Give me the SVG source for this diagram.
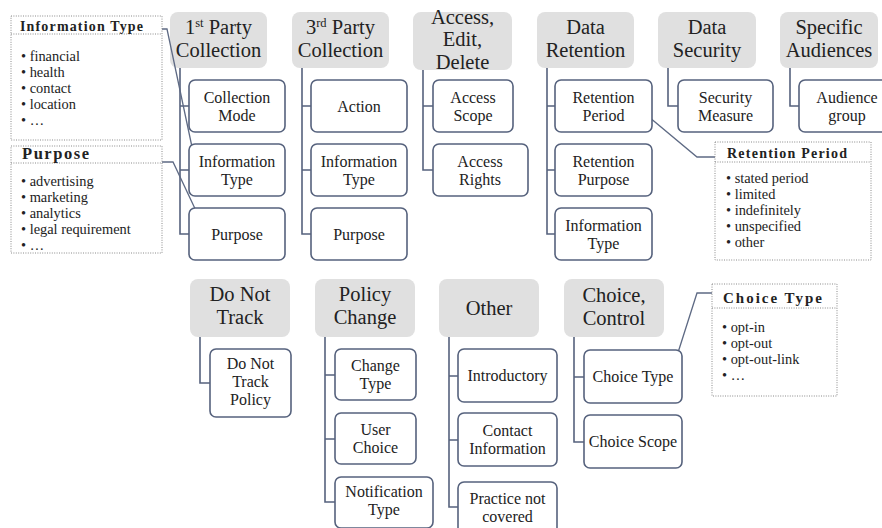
<svg xmlns="http://www.w3.org/2000/svg" width="882" height="528" viewBox="0 0 882 528" font-family="'Liberation Serif', 'DejaVu Serif', 'Times New Roman', serif">
  <style>
    text { font-family: 'Liberation Serif', 'DejaVu Serif', 'Times New Roman', serif; fill: #222; }
    .hdr rect { fill: #e0e0e0; stroke: none; }
    .hdr text { font-size: 20.5px; text-anchor: middle; }
    .node rect { fill: #fff; stroke: #56627d; stroke-width: 1.6; }
    .node text { font-size: 16px; text-anchor: middle; }
    .list rect { fill: #fff; stroke: #8a8a8a; stroke-width: 1; stroke-dasharray: 1 1.4; }
    .list line { stroke: #8a8a8a; stroke-width: 1; stroke-dasharray: 1 1.4; }
    .list .ttl { font-weight: bold; }
    .list .item { font-size: 14.4px; }
    .trunk path { fill: none; stroke: #56627d; stroke-width: 1.6; }
    .link path { fill: none; stroke: #5e6a84; stroke-width: 1.3; }
    .sup { font-size: 12.5px; }
  </style>

  <!-- category headers, top row -->
  <g id="cat-first-party" class="hdr">
    <rect x="170" y="12" width="97" height="56" rx="8"/>
    <text x="218.5" y="34">1<tspan class="sup" dy="-7">st</tspan><tspan dy="7"> Party</tspan></text>
    <text x="218.5" y="57">Collection</text>
  </g>
  <g id="cat-third-party" class="hdr">
    <rect x="292" y="12" width="97" height="56" rx="8"/>
    <text x="340.5" y="34">3<tspan class="sup" dy="-7">rd</tspan><tspan dy="7"> Party</tspan></text>
    <text x="340.5" y="57">Collection</text>
  </g>
  <g id="cat-access" class="hdr">
    <rect x="413" y="12" width="99" height="58" rx="8"/>
    <text x="462.5" y="24" font-size="20px">Access,</text>
    <text x="462.5" y="46.3" font-size="20px">Edit,</text>
    <text x="462.5" y="68.6" font-size="20px">Delete</text>
  </g>
  <g id="cat-retention" class="hdr">
    <rect x="537" y="12" width="97" height="56" rx="8"/>
    <text x="585.5" y="34">Data</text>
    <text x="585.5" y="57">Retention</text>
  </g>
  <g id="cat-security" class="hdr">
    <rect x="658" y="12" width="98" height="56" rx="8"/>
    <text x="707" y="34">Data</text>
    <text x="707" y="57">Security</text>
  </g>
  <g id="cat-audiences" class="hdr">
    <rect x="780" y="12" width="98" height="56" rx="8"/>
    <text x="829" y="34">Specific</text>
    <text x="829" y="57">Audiences</text>
  </g>

  <!-- category headers, bottom row -->
  <g id="cat-dnt" class="hdr">
    <rect x="190" y="279" width="100" height="58" rx="8"/>
    <text x="240" y="301">Do Not</text>
    <text x="240" y="324">Track</text>
  </g>
  <g id="cat-policy-change" class="hdr">
    <rect x="315" y="279" width="100" height="58" rx="8"/>
    <text x="365" y="301">Policy</text>
    <text x="365" y="324">Change</text>
  </g>
  <g id="cat-other" class="hdr">
    <rect x="439" y="279" width="100" height="58" rx="8"/>
    <text x="489" y="315">Other</text>
  </g>
  <g id="cat-choice" class="hdr">
    <rect x="564" y="279" width="100" height="58" rx="8"/>
    <text x="614" y="302">Choice,</text>
    <text x="614" y="325">Control</text>
  </g>

  <!-- tree connectors -->
  <g id="connectors">
    <g class="trunk">
      <path d="M180,68 V234 H189 M180,106 H189 M180,170 H189"/>
      <path d="M302,68 V234 H311 M302,106 H311 M302,170 H311"/>
      <path d="M423,70 V170 H433 M423,106 H433"/>
      <path d="M547,68 V234 H555 M547,106 H555 M547,170 H555"/>
      <path d="M668,68 V106 H678"/>
      <path d="M790,68 V106 H799"/>
      <path d="M200,337 V383 H210"/>
      <path d="M325,337 V502 H335 M325,375 H335 M325,439 H335"/>
      <path d="M449,337 V507 H458 M449,376 H458 M449,440 H458"/>
      <path d="M574,337 V442 H584 M574,377 H584"/>
    </g>
    <g class="link">
      <path d="M162,29 H167 L192,147"/>
      <path d="M162,162 H173 L198,215"/>
      <path d="M637,107 L697,157 H715"/>
      <path d="M675,362 L697,293 H712"/>
    </g>
  </g>

  <!-- leaf nodes, top row -->
  <g id="n-collection-mode" class="node"><rect x="189" y="80" width="96" height="52" rx="6"/><text x="237" y="102.5">Collection</text><text x="237" y="120.5">Mode</text></g>
  <g id="n-1st-info-type" class="node"><rect x="189" y="144" width="96" height="52" rx="6"/><text x="237" y="166.5">Information</text><text x="237" y="184.5">Type</text></g>
  <g id="n-1st-purpose" class="node"><rect x="189" y="208" width="96" height="52" rx="6"/><text x="237" y="239.5">Purpose</text></g>

  <g id="n-action" class="node"><rect x="311" y="80" width="96" height="52" rx="6"/><text x="359" y="111.5">Action</text></g>
  <g id="n-3rd-info-type" class="node"><rect x="311" y="144" width="96" height="52" rx="6"/><text x="359" y="166.5">Information</text><text x="359" y="184.5">Type</text></g>
  <g id="n-3rd-purpose" class="node"><rect x="311" y="208" width="96" height="52" rx="6"/><text x="359" y="239.5">Purpose</text></g>

  <g id="n-access-scope" class="node"><rect x="433" y="80" width="80" height="52" rx="6"/><text x="473" y="102.5">Access</text><text x="473" y="120.5">Scope</text></g>
  <g id="n-access-rights" class="node"><rect x="433" y="144" width="95" height="52" rx="6"/><text x="480" y="166.5">Access</text><text x="480" y="184.5">Rights</text></g>

  <g id="n-retention-period" class="node"><rect x="555" y="80" width="97" height="52" rx="6"/><text x="603.5" y="102.5">Retention</text><text x="603.5" y="120.5">Period</text></g>
  <g id="n-retention-purpose" class="node"><rect x="555" y="144" width="97" height="52" rx="6"/><text x="603.5" y="166.5">Retention</text><text x="603.5" y="184.5">Purpose</text></g>
  <g id="n-ret-info-type" class="node"><rect x="555" y="208" width="97" height="52" rx="6"/><text x="603.5" y="230.5">Information</text><text x="603.5" y="248.5">Type</text></g>

  <g id="n-security-measure" class="node"><rect x="678" y="80" width="95" height="52" rx="6"/><text x="725.5" y="102.5">Security</text><text x="725.5" y="120.5">Measure</text></g>
  <g id="n-audience-group" class="node"><rect x="799" y="80" width="96" height="52" rx="6"/><text x="847" y="102.5">Audience</text><text x="847" y="120.5">group</text></g>

  <!-- leaf nodes, bottom row -->
  <g id="n-dnt-policy" class="node"><rect x="210" y="349" width="81" height="68" rx="6"/><text x="250.5" y="368.5">Do Not</text><text x="250.5" y="386.5">Track</text><text x="250.5" y="404.5">Policy</text></g>

  <g id="n-change-type" class="node"><rect x="335" y="349" width="81" height="51" rx="6"/><text x="375.5" y="371">Change</text><text x="375.5" y="389">Type</text></g>
  <g id="n-user-choice" class="node"><rect x="335" y="413" width="81" height="51" rx="6"/><text x="375.5" y="435">User</text><text x="375.5" y="453">Choice</text></g>
  <g id="n-notification-type" class="node"><rect x="335" y="477" width="98" height="51" rx="6"/><text x="384" y="497">Notification</text><text x="384" y="515">Type</text></g>

  <g id="n-introductory" class="node"><rect x="458" y="349" width="99" height="53" rx="6"/><text x="507.5" y="381">Introductory</text></g>
  <g id="n-contact-info" class="node"><rect x="458" y="413" width="99" height="53" rx="6"/><text x="507.5" y="436">Contact</text><text x="507.5" y="454">Information</text></g>
  <g id="n-practice-not-covered" class="node"><rect x="458" y="482" width="99" height="58" rx="6"/><text x="507.5" y="504">Practice not</text><text x="507.5" y="522">covered</text></g>

  <g id="n-choice-type" class="node"><rect x="584" y="350" width="98" height="53" rx="6"/><text x="633" y="382">Choice Type</text></g>
  <g id="n-choice-scope" class="node"><rect x="584" y="415" width="98" height="53" rx="6"/><text x="633" y="447">Choice Scope</text></g>

  <!-- value lists -->
  <g id="list-information-type" class="list">
    <rect x="11" y="16" width="151" height="124"/>
    <line x1="11" y1="34" x2="162" y2="34"/>
    <text class="ttl" x="20" y="31" font-size="14" textLength="123" lengthAdjust="spacing">Information Type</text>
    <text class="item" x="21" y="61">• financial</text>
    <text class="item" x="21" y="77">• health</text>
    <text class="item" x="21" y="93">• contact</text>
    <text class="item" x="21" y="109">• location</text>
    <text class="item" x="21" y="125">• …</text>
  </g>
  <g id="list-purpose" class="list">
    <rect x="11" y="146" width="151" height="107"/>
    <line x1="11" y1="163" x2="162" y2="163"/>
    <text class="ttl" x="22" y="159" font-size="16.5" textLength="67" lengthAdjust="spacing">Purpose</text>
    <text class="item" x="21" y="186">• advertising</text>
    <text class="item" x="21" y="202">• marketing</text>
    <text class="item" x="21" y="218">• analytics</text>
    <text class="item" x="21" y="234">• legal requirement</text>
    <text class="item" x="21" y="250">• …</text>
  </g>
  <g id="list-retention-period" class="list">
    <rect x="715" y="142" width="156" height="118"/>
    <line x1="715" y1="162" x2="871" y2="162"/>
    <text class="ttl" x="727" y="158" font-size="14" textLength="120" lengthAdjust="spacing">Retention Period</text>
    <text class="item" x="726" y="183">• stated period</text>
    <text class="item" x="726" y="199">• limited</text>
    <text class="item" x="726" y="215">• indefinitely</text>
    <text class="item" x="726" y="231">• unspecified</text>
    <text class="item" x="726" y="247">• other</text>
  </g>
  <g id="list-choice-type" class="list">
    <rect x="712" y="284" width="125" height="112"/>
    <line x1="712" y1="308" x2="837" y2="308"/>
    <text class="ttl" x="723" y="303" font-size="15" textLength="99" lengthAdjust="spacing">Choice Type</text>
    <text class="item" x="722" y="332">• opt-in</text>
    <text class="item" x="722" y="348">• opt-out</text>
    <text class="item" x="722" y="364">• opt-out-link</text>
    <text class="item" x="722" y="380">• …</text>
  </g>
</svg>
